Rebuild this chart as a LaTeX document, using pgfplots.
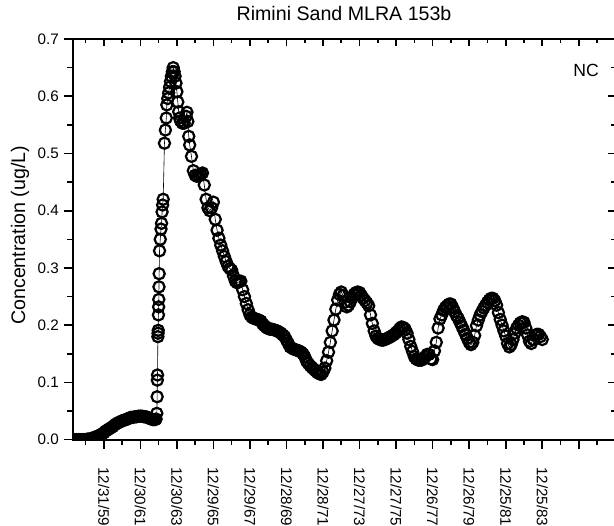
\documentclass[border=0pt]{standalone}
\usepackage{fontspec}
\setmainfont{Liberation Sans}
\usepackage{pgfplots}
\usepackage{pgfplotstable}
\pgfplotsset{compat=1.18}

% Simulated concentration, NC scenario (x: years after 12/31/59)
\pgfplotstableread[row sep=\\]{
x y\\
-1.6 0.000\\ -1.5 0.000\\ -1.4 0.000\\ -1.3 0.000\\ -1.2 0.000\\ -1.1 0.000\\ -1.0 0.000\\
-0.9 0.001\\ -0.8 0.001\\ -0.7 0.002\\ -0.6 0.003\\ -0.5 0.004\\ -0.4 0.005\\ -0.3 0.007\\
-0.2 0.008\\ -0.1 0.010\\ 0.0 0.012\\ 0.1 0.015\\ 0.2 0.017\\ 0.3 0.019\\ 0.4 0.021\\
0.5 0.023\\ 0.6 0.026\\ 0.7 0.028\\ 0.8 0.030\\ 0.9 0.031\\ 1.0 0.033\\ 1.1 0.034\\
1.2 0.035\\ 1.3 0.036\\ 1.4 0.038\\ 1.5 0.039\\ 1.6 0.039\\ 1.7 0.040\\ 1.8 0.040\\
1.9 0.041\\ 2.0 0.041\\ 2.1 0.041\\ 2.2 0.040\\ 2.3 0.040\\ 2.4 0.039\\ 2.5 0.037\\
2.6 0.036\\ 2.7 0.035\\ 2.8 0.035\\ 2.86 0.036\\
2.90 0.046\\ 2.92 0.075\\ 2.93 0.104\\ 2.94 0.113\\ 2.96 0.180\\ 2.97 0.186\\ 2.98 0.191\\
2.99 0.218\\ 3.00 0.232\\ 3.01 0.245\\ 3.02 0.267\\ 3.03 0.290\\ 3.05 0.330\\ 3.09 0.350\\
3.13 0.368\\ 3.16 0.378\\ 3.19 0.398\\ 3.22 0.410\\ 3.25 0.420\\ 3.32 0.518\\ 3.37 0.541\\
3.42 0.562\\ 3.45 0.585\\ 3.50 0.596\\ 3.55 0.606\\ 3.60 0.616\\ 3.65 0.626\\ 3.70 0.635\\
3.75 0.643\\ 3.80 0.650\\ 3.85 0.643\\ 3.90 0.635\\ 3.95 0.623\\ 4.00 0.608\\ 4.05 0.590\\
4.10 0.573\\ 4.15 0.562\\ 4.20 0.557\\ 4.30 0.553\\ 4.40 0.553\\ 4.50 0.565\\ 4.55 0.572\\
4.60 0.556\\ 4.65 0.530\\ 4.70 0.515\\ 4.80 0.495\\ 4.90 0.470\\ 5.0 0.462\\ 5.1 0.460\\
5.2 0.462\\ 5.3 0.464\\ 5.4 0.466\\ 5.5 0.445\\ 5.6 0.420\\ 5.7 0.405\\ 5.8 0.400\\
5.9 0.405\\ 6.0 0.415\\ 6.1 0.385\\ 6.2 0.366\\ 6.3 0.352\\ 6.4 0.340\\ 6.5 0.330\\
6.6 0.320\\ 6.7 0.311\\ 6.8 0.303\\ 6.9 0.299\\ 7.0 0.296\\ 7.1 0.286\\ 7.2 0.277\\
7.3 0.274\\ 7.4 0.276\\ 7.5 0.277\\ 7.6 0.262\\ 7.7 0.250\\ 7.8 0.238\\ 7.9 0.227\\
8.0 0.218\\ 8.1 0.214\\ 8.2 0.212\\ 8.3 0.211\\ 8.4 0.210\\ 8.5 0.209\\ 8.6 0.207\\
8.7 0.202\\ 8.8 0.199\\ 8.9 0.196\\ 9.0 0.194\\ 9.1 0.193\\ 9.2 0.193\\ 9.3 0.192\\
9.4 0.191\\ 9.5 0.190\\ 9.6 0.188\\ 9.7 0.186\\ 9.8 0.183\\ 9.9 0.180\\ 10.0 0.174\\
10.1 0.168\\ 10.2 0.162\\ 10.3 0.160\\ 10.4 0.158\\ 10.5 0.157\\ 10.6 0.156\\ 10.7 0.155\\
10.8 0.153\\ 10.9 0.150\\ 11.0 0.145\\ 11.1 0.137\\ 11.2 0.133\\ 11.3 0.129\\ 11.4 0.126\\
11.5 0.123\\ 11.6 0.120\\ 11.7 0.117\\ 11.8 0.115\\ 11.9 0.114\\ 12.0 0.118\\ 12.1 0.125\\
12.2 0.138\\ 12.3 0.153\\ 12.4 0.170\\ 12.5 0.190\\ 12.6 0.209\\ 12.7 0.228\\ 12.8 0.244\\
12.9 0.254\\ 13.0 0.258\\ 13.1 0.252\\ 13.2 0.240\\ 13.3 0.232\\ 13.4 0.235\\ 13.5 0.241\\
13.6 0.248\\ 13.7 0.254\\ 13.8 0.257\\ 13.9 0.258\\ 14.0 0.257\\ 14.1 0.252\\ 14.2 0.247\\
14.3 0.243\\ 14.4 0.239\\ 14.5 0.234\\ 14.6 0.218\\ 14.7 0.203\\ 14.8 0.190\\ 14.9 0.181\\
15.0 0.177\\ 15.1 0.175\\ 15.2 0.174\\ 15.3 0.174\\ 15.4 0.175\\ 15.5 0.177\\ 15.6 0.178\\
15.7 0.180\\ 15.8 0.182\\ 15.9 0.184\\ 16.0 0.187\\ 16.1 0.190\\ 16.2 0.194\\ 16.3 0.197\\
16.4 0.196\\ 16.5 0.193\\ 16.6 0.186\\ 16.7 0.175\\ 16.8 0.163\\ 16.9 0.154\\ 17.0 0.145\\
17.1 0.141\\ 17.2 0.139\\ 17.3 0.139\\ 17.4 0.139\\ 17.5 0.142\\ 17.6 0.145\\ 17.7 0.149\\
17.8 0.149\\ 17.9 0.141\\ 18.0 0.140\\ 18.1 0.155\\ 18.2 0.170\\ 18.3 0.195\\ 18.4 0.211\\
18.5 0.218\\ 18.6 0.226\\ 18.7 0.231\\ 18.8 0.234\\ 18.9 0.237\\ 19.0 0.237\\ 19.1 0.231\\
19.2 0.224\\ 19.3 0.217\\ 19.4 0.212\\ 19.5 0.205\\ 19.6 0.198\\ 19.7 0.191\\ 19.8 0.184\\
19.9 0.177\\ 20.0 0.170\\ 20.1 0.166\\ 20.2 0.170\\ 20.3 0.182\\ 20.4 0.199\\ 20.5 0.209\\
20.6 0.218\\ 20.7 0.224\\ 20.8 0.230\\ 20.9 0.235\\ 21.0 0.240\\ 21.1 0.244\\ 21.2 0.247\\
21.3 0.247\\ 21.4 0.243\\ 21.5 0.235\\ 21.6 0.222\\ 21.7 0.210\\ 21.8 0.200\\ 21.9 0.190\\
22.0 0.181\\ 22.1 0.168\\ 22.2 0.162\\ 22.3 0.166\\ 22.4 0.175\\ 22.5 0.186\\ 22.6 0.195\\
22.7 0.200\\ 22.8 0.204\\ 22.9 0.206\\ 23.0 0.205\\ 23.1 0.195\\ 23.2 0.183\\ 23.3 0.172\\
23.4 0.168\\ 23.5 0.175\\ 23.6 0.182\\ 23.7 0.184\\ 23.8 0.184\\ 23.9 0.180\\ 24.0 0.175\\
}\ncdata

\begin{document}
\begin{tikzpicture}
\pgfplotsset{
  frame/.style={
    scale only axis, width=271.05pt, height=200.15pt,
    xmin=-1.7, xmax=28, ymin=0, ymax=0.7,
    axis line style={line width=0.9pt},
    every tick/.style={line width=0.8pt, black},
    xtick={0,2,...,28},
    minor xtick={-1,1,3,5,7,9,11,13,15,17,19,21,23,25,27},
    ytick={0,0.1,0.2,0.3,0.4,0.5,0.6,0.7},
    minor ytick={0.05,0.15,0.25,0.35,0.45,0.55,0.65},
  }
}
% main axis: labelled bottom/left sides, ticks pointing out
\begin{axis}[
  frame,
  xtick pos=left, ytick pos=left,
  tick align=outside,
  major tick length=4.5pt, minor tick length=2.75pt,
  xticklabels={12/31/59,12/30/61,12/30/63,12/29/65,12/29/67,12/28/69,12/28/71,12/27/73,12/27/75,12/26/77,12/26/79,12/25/81,12/25/83,,},
  xticklabel style={rotate=-90, anchor=west, inner sep=0pt, font=\fontsize{7.6}{9}\selectfont},
  xticklabel shift=9pt,
  yticklabel style={anchor=east, inner sep=0pt, font=\fontsize{7.6}{9}\selectfont},
  yticklabel shift=2.3pt,
  /pgf/number format/.cd, fixed, fixed zerofill, precision=1, assume math mode=true,
  /pgfplots/.cd,
  ylabel={Concentration (ug/L)},
  every axis y label/.style={at={(axis description cs:-0.0972,0.51)}, rotate=90, anchor=center, font=\fontsize{9.8}{11}\selectfont},
  title={Rimini Sand MLRA 153b},
  every axis title/.style={at={(axis description cs:0.5,1)}, anchor=base, yshift=9.5pt, font=\fontsize{9.8}{11}\selectfont},
  clip marker paths=true,
]
\addplot[black, line width=0.3pt, mark=o, mark size=2.8pt,
  mark options={solid, fill=white, draw=black, line width=1.1pt}]
  table[x=x, y=y] {\ncdata};
\node[font=\fontsize{8.8}{10}\selectfont, anchor=center] at (axis cs:26.4,0.646) {NC};
\end{axis}
% mirror sides: ticks pointing in, no labels
\begin{axis}[
  frame,
  xtick pos=right, ytick pos=right,
  tick align=inside,
  major tick length=3.5pt, minor tick length=2pt,
  xticklabels={}, yticklabels={},
]
\end{axis}
\pgfresetboundingbox
\path[use as bounding box] (-36.35pt,-42.64pt) rectangle (270.4pt,219.65pt);
\end{tikzpicture}
\end{document}
